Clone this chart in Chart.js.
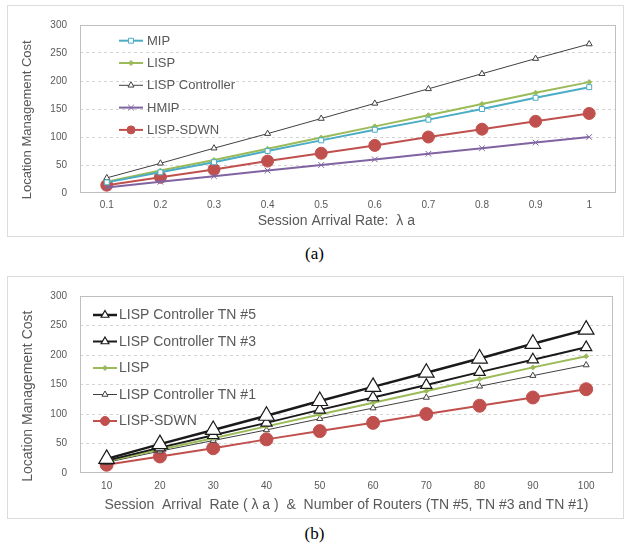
<!DOCTYPE html>
<html>
<head>
<meta charset="utf-8">
<script src="https://cdn.jsdelivr.net/npm/chart.js@4.4.0/dist/chart.umd.min.js"></script>
<style>
  body { margin: 0; background: #fff; width: 629px; height: 545px; position: relative; overflow: hidden; }
  .box { position: absolute; left: 7px; width: 615px; border: 1px solid #dcdcdc; }
  #boxA { top: 5px; height: 230px; }
  #boxB { top: 276px; height: 241px; }
  .cap { position: absolute; left: 0; width: 629px; text-align: center; font-family: "Liberation Serif", serif; font-size: 17px; color: #000; }
</style>
</head>
<body>
<div class="box" id="boxA"><canvas id="chartA"></canvas></div>
<div class="cap" style="top:244px">(a)</div>
<div class="box" id="boxB"><canvas id="chartB"></canvas></div>
<div class="cap" style="top:524px">(b)</div>
<script>
// chart (a): cost vs session arrival rate
const rateLabels = ['0.1', '0.2', '0.3', '0.4', '0.5', '0.6', '0.7', '0.8', '0.9', '1'];
const mipCost = [19, 37, 55, 75, 94, 113, 131, 150, 170, 189];
const lispCost = [20, 40, 59, 79, 99, 119, 139, 159, 179, 198];
const controllerCost = [27, 53, 80, 106, 133, 160, 186, 213, 240, 266];
const hmipCost = [10, 20, 30, 40, 50, 60, 70, 80, 90, 100];
const sdwnCost = [14, 28, 42, 57, 71, 85, 100, 114, 128, 142];

// chart (b): cost vs arrival rate & number of routers
const routerLabels = ['10', '20', '30', '40', '50', '60', '70', '80', '90', '100'];
const tn5Cost = [24, 49, 73, 97, 122, 146, 170, 194, 219, 243];
const tn3Cost = [21, 43, 64, 85, 107, 128, 149, 171, 192, 213];
const tn1Cost = [18, 37, 55, 73, 92, 110, 128, 147, 165, 183];

const yMin = 0, yMax = 300, yStep = 50;

const FONT = '"Liberation Sans", Arial, sans-serif';
const GREY = '#595959';

// plot frame + legend drawn inside the plot area
const insideLegend = {
  id: 'insideLegend',
  beforeDatasetsDraw(chart) {
    const { ctx, chartArea: a } = chart;
    ctx.save();
    ctx.strokeStyle = '#bfbfbf';
    ctx.lineWidth = 1;
    ctx.strokeRect(Math.round(a.left) + 0.5, Math.round(a.top) + 0.5, Math.round(a.width) - 1, Math.round(a.height) - 1);
    ctx.restore();
  },
  afterDraw(chart, args, opts) {
    const { ctx, chartArea: a } = chart;
    ctx.save();
    ctx.font = opts.font;
    ctx.textBaseline = 'middle';
    chart.data.datasets.forEach((ds, i) => {
      const y = a.top + opts.y + i * opts.gap;
      const x0 = a.left + opts.x;
      const x1 = x0 + opts.lineLen;
      ctx.strokeStyle = ds.borderColor;
      ctx.lineWidth = ds.borderWidth;
      ctx.beginPath();
      ctx.moveTo(x0, y);
      ctx.lineTo(x1, y);
      ctx.stroke();
      ctx.fillStyle = ds.pointBackgroundColor;
      ctx.strokeStyle = ds.pointBorderColor;
      ctx.lineWidth = ds.pointBorderWidth;
      Chart.helpers.drawPoint(ctx, {
        pointStyle: ds.pointStyle,
        radius: Math.min(ds.pointRadius, opts.maxRadius),
        rotation: 0,
        borderWidth: ds.pointBorderWidth
      }, (x0 + x1) / 2, y);
      ctx.fillStyle = GREY;
      ctx.fillText(ds.label, x1 + opts.textGap, y + 0.5);
    });
    ctx.restore();
  }
};

function series(label, data, color, width, style, radius, fill, pbw) {
  return {
    label: label,
    data: data,
    borderColor: color,
    borderWidth: width,
    pointStyle: style,
    pointRadius: radius,
    pointHoverRadius: radius,
    pointBackgroundColor: fill,
    pointBorderColor: color,
    pointBorderWidth: pbw,
    tension: 0,
    fill: false
  };
}

function makeOptions(cfg) {
  return {
    responsive: true,
    maintainAspectRatio: false,
    animation: false,
    layout: { padding: { left: 0, right: cfg.padRight, top: cfg.padTop, bottom: 0 } },
    plugins: {
      legend: { display: false },
      tooltip: { enabled: false },
      insideLegend: cfg.legend
    },
    scales: {
      x: {
        offset: true,
        grid: { display: false, drawTicks: false },
        border: { display: false },
        ticks: { color: GREY, font: { family: FONT, size: 10 }, padding: cfg.xTickPad, maxRotation: 0 },
        title: { display: true, text: cfg.xTitle, color: GREY, font: { family: FONT, size: cfg.xTitleSize }, padding: { top: 0, bottom: cfg.xTitlePad } },
        afterFit: s => { s.height = cfg.xHeight; }
      },
      y: {
        min: yMin,
        max: yMax,
        ticks: { stepSize: yStep, color: GREY, font: { family: FONT, size: 10 }, padding: 13 },
        grid: {
          drawTicks: false,
          color: c => (c.tick.value === yMin || c.tick.value === yMax) ? 'rgba(0,0,0,0)' : '#d4d4d4'
        },
        border: { display: false, dash: [3, 3] },
        title: { display: true, text: 'Location Management Cost      ', color: GREY, font: { family: FONT, size: cfg.yTitleSize }, padding: { top: 12, bottom: 0 } },
        afterFit: s => { s.width = 72; }
      }
    }
  };
}

new Chart(document.getElementById('chartA').getContext('2d'), {
  type: 'line',
  data: {
    labels: rateLabels,
    datasets: [
      series('MIP', mipCost, '#4bacc6', 2, 'rect', 3.5, '#ffffff', 1),
      series('LISP', lispCost, '#9bbb59', 2, 'rectRot', 2.5, '#9bbb59', 1),
      series('LISP Controller', controllerCost, '#404040', 1, 'triangle', 3.5, '#ffffff', 1),
      series('HMIP', hmipCost, '#8064a2', 2, 'crossRot', 4, '#8064a2', 1),
      series('LISP-SDWN', sdwnCost, '#c0504d', 2, 'circle', 6, '#c0504d', 1)
    ]
  },
  options: makeOptions({
    padRight: 7, padTop: 12, xTickPad: 6, xHeight: 43, xTitlePad: 6,
    xTitle: 'Session Arrival Rate:  λ a      ', xTitleSize: 14, yTitleSize: 13,
    legend: { x: 39, y: 15.7, gap: 22.3, lineLen: 24, textGap: 4, maxRadius: 4, font: '13px ' + FONT }
  }),
  plugins: [insideLegend]
});

new Chart(document.getElementById('chartB').getContext('2d'), {
  type: 'line',
  data: {
    labels: routerLabels,
    datasets: [
      series('LISP Controller TN #5', tn5Cost, '#1a1a1a', 2.5, 'triangle', 9, '#ffffff', 1.2),
      series('LISP Controller TN #3', tn3Cost, '#1a1a1a', 2, 'triangle', 6.5, '#ffffff', 1.2),
      series('LISP', lispCost, '#9bbb59', 2, 'rectRot', 2.5, '#9bbb59', 1),
      series('LISP Controller TN #1', tn1Cost, '#404040', 1, 'triangle', 3.5, '#ffffff', 1),
      series('LISP-SDWN', sdwnCost, '#c0504d', 2, 'circle', 6.5, '#c0504d', 1)
    ]
  },
  options: makeOptions({
    padRight: 6, padTop: 11, xTickPad: 7, xHeight: 45, xTitlePad: 4,
    xTitle: 'Session  Arrival  Rate ( λ a )  &  Number of Routers (TN #5, TN #3 and TN #1)', xTitleSize: 14, yTitleSize: 14,
    legend: { x: 13, y: 19, gap: 26.5, lineLen: 24, textGap: 2, maxRadius: 4.5, font: '14px ' + FONT }
  }),
  plugins: [insideLegend]
});
</script>
</body>
</html>
